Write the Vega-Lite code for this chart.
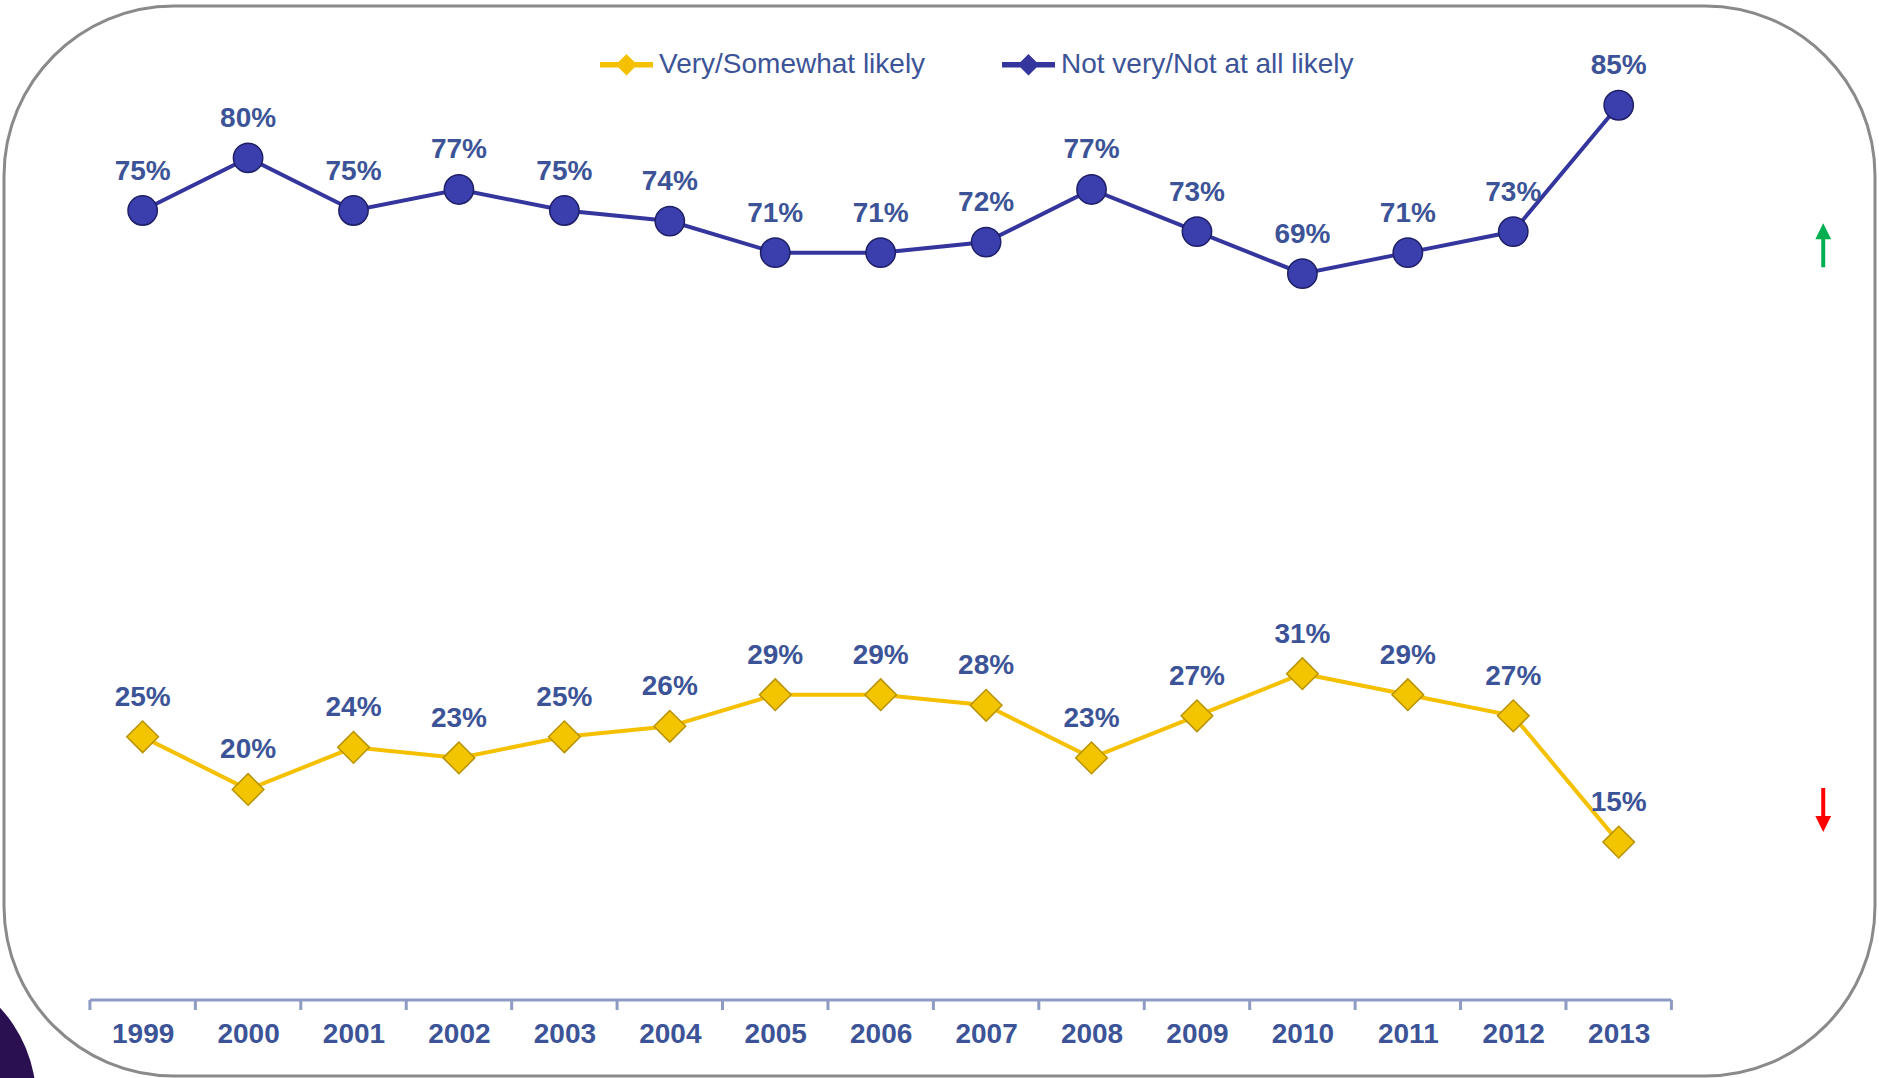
{
  "$schema": "https://vega.github.io/schema/vega-lite/v6.json",
  "width": 1871,
  "height": 1070,
  "autosize": {"type": "none"},
  "padding": {"left": 4, "top": 6, "right": 4, "bottom": 2},
  "background": "white",
  "config": {
    "view": {"stroke": "#8a8a8a", "strokeWidth": 3, "cornerRadius": 170, "fill": "white"},
    "font": "Liberation Sans"
  },
  "datasets": {
    "series": [
      {"year": 1999, "value": 75, "series": "Not very/Not at all likely"},
      {"year": 2000, "value": 80, "series": "Not very/Not at all likely"},
      {"year": 2001, "value": 75, "series": "Not very/Not at all likely"},
      {"year": 2002, "value": 77, "series": "Not very/Not at all likely"},
      {"year": 2003, "value": 75, "series": "Not very/Not at all likely"},
      {"year": 2004, "value": 74, "series": "Not very/Not at all likely"},
      {"year": 2005, "value": 71, "series": "Not very/Not at all likely"},
      {"year": 2006, "value": 71, "series": "Not very/Not at all likely"},
      {"year": 2007, "value": 72, "series": "Not very/Not at all likely"},
      {"year": 2008, "value": 77, "series": "Not very/Not at all likely"},
      {"year": 2009, "value": 73, "series": "Not very/Not at all likely"},
      {"year": 2010, "value": 69, "series": "Not very/Not at all likely"},
      {"year": 2011, "value": 71, "series": "Not very/Not at all likely"},
      {"year": 2012, "value": 73, "series": "Not very/Not at all likely"},
      {"year": 2013, "value": 85, "series": "Not very/Not at all likely"},
      {"year": 1999, "value": 25, "series": "Very/Somewhat likely"},
      {"year": 2000, "value": 20, "series": "Very/Somewhat likely"},
      {"year": 2001, "value": 24, "series": "Very/Somewhat likely"},
      {"year": 2002, "value": 23, "series": "Very/Somewhat likely"},
      {"year": 2003, "value": 25, "series": "Very/Somewhat likely"},
      {"year": 2004, "value": 26, "series": "Very/Somewhat likely"},
      {"year": 2005, "value": 29, "series": "Very/Somewhat likely"},
      {"year": 2006, "value": 29, "series": "Very/Somewhat likely"},
      {"year": 2007, "value": 28, "series": "Very/Somewhat likely"},
      {"year": 2008, "value": 23, "series": "Very/Somewhat likely"},
      {"year": 2009, "value": 27, "series": "Very/Somewhat likely"},
      {"year": 2010, "value": 31, "series": "Very/Somewhat likely"},
      {"year": 2011, "value": 29, "series": "Very/Somewhat likely"},
      {"year": 2012, "value": 27, "series": "Very/Somewhat likely"},
      {"year": 2013, "value": 15, "series": "Very/Somewhat likely"}
    ],
    "bounds": [
      {"b": 1998.5}, {"b": 1999.5}, {"b": 2000.5}, {"b": 2001.5}, {"b": 2002.5}, {"b": 2003.5},
      {"b": 2004.5}, {"b": 2005.5}, {"b": 2006.5}, {"b": 2007.5}, {"b": 2008.5}, {"b": 2009.5},
      {"b": 2010.5}, {"b": 2011.5}, {"b": 2012.5}, {"b": 2013.5}
    ]
  },
  "layer": [
    {
      "data": {"values": [{"deco": "corner"}]},
      "mark": {"type": "point", "filled": true, "opacity": 1, "color": "#2a1050", "size": 74000},
      "encoding": {
        "x": {"datum": 1996.7, "type": "quantitative"},
        "y": {"datum": -9.5, "type": "quantitative", "axis": null}
      }
    },
    {
      "data": {"values": [{"axis": "base"}]},
      "mark": {"type": "rule", "color": "#8e9cc4", "strokeWidth": 3},
      "encoding": {
        "x": {"datum": 1998.5, "type": "quantitative"},
        "x2": {"datum": 2013.5},
        "y": {"datum": 0, "type": "quantitative", "axis": null}
      }
    },
    {
      "data": {"name": "bounds"},
      "mark": {"type": "rule", "color": "#8e9cc4", "strokeWidth": 3},
      "encoding": {
        "x": {"field": "b", "type": "quantitative"},
        "y": {"datum": 0, "type": "quantitative", "axis": null},
        "y2": {"datum": -0.95}
      }
    },
    {
      "data": {"name": "series"},
      "mark": {"type": "line", "strokeWidth": 4},
      "encoding": {
        "x": {"field": "year", "type": "quantitative", "scale": {"domain": [1997.685, 2015.431], "nice": false, "zero": false}, "axis": {"orient": "bottom", "offset": -76, "domain": false, "ticks": false, "grid": false, "values": [1999, 2000, 2001, 2002, 2003, 2004, 2005, 2006, 2007, 2008, 2009, 2010, 2011, 2012, 2013], "format": "d", "labelFont": "Liberation Sans", "labelFontWeight": "bold", "labelFontSize": 28, "labelColor": "#3c5497", "labelPadding": 20, "labelOverlap": false, "labelFlush": false, "title": null}},
        "y": {"field": "value", "type": "quantitative", "scale": {"domain": [-7.22, 94.43], "nice": false, "zero": false}, "axis": null},
        "color": {
          "field": "series", "type": "nominal",
          "scale": {"domain": ["Very/Somewhat likely", "Not very/Not at all likely"], "range": ["#f5c000", "#34369e"]},
          "legend": {
            "title": null, "orient": "none", "legendX": 594, "legendY": 30, "direction": "horizontal",
            "labelFont": "Liberation Sans", "labelFontSize": 28, "labelColor": "#3c5497", "labelOffset": 4, "labelLimit": 500,
            "symbolType": "M-1,-0.03L1,-0.03M-1,0.03L1,0.03M0,-0.3L0.3,0L0,0.3L-0.3,0ZM0,-0.2L0.2,0L0,0.2L-0.2,0ZM0,-0.1L0.1,0L0,0.1L-0.1,0Z",
            "symbolSize": 2809, "symbolStrokeWidth": 4, "columnPadding": 68
          }
        },
        "detail": {"field": "series"}
      }
    },
    {
      "data": {"name": "series"},
      "transform": [{"filter": "datum.series === 'Very/Somewhat likely'"}],
      "mark": {"type": "point", "shape": "diamond", "filled": true, "opacity": 1, "fill": "#f2c500", "stroke": "#b89200", "strokeWidth": 1.5, "size": 1000},
      "encoding": {
        "x": {"field": "year", "type": "quantitative"},
        "y": {"field": "value", "type": "quantitative", "axis": null}
      }
    },
    {
      "data": {"name": "series"},
      "transform": [{"filter": "datum.series === 'Not very/Not at all likely'"}],
      "mark": {"type": "point", "shape": "circle", "filled": true, "opacity": 1, "fill": "#3b3fae", "stroke": "#1e1f66", "strokeWidth": 1.5, "size": 860},
      "encoding": {
        "x": {"field": "year", "type": "quantitative"},
        "y": {"field": "value", "type": "quantitative", "axis": null}
      }
    },
    {
      "data": {"name": "series"},
      "transform": [{"calculate": "datum.value + '%'", "as": "label"}],
      "mark": {"type": "text", "font": "Liberation Sans", "fontWeight": "bold", "fontSize": 28, "color": "#3c5497", "baseline": "middle", "align": "center", "dy": -39},
      "encoding": {
        "x": {"field": "year", "type": "quantitative"},
        "y": {"field": "value", "type": "quantitative", "axis": null},
        "text": {"field": "label"}
      }
    },
    {
      "data": {"values": [{"dir": "up"}]},
      "mark": {"type": "point", "filled": true, "opacity": 1, "color": "#00b050", "size": 1936, "shape": "M0,-1L0.36,-0.27L0.09,-0.27L0.09,1L-0.09,1L-0.09,-0.27L-0.36,-0.27Z"},
      "encoding": {
        "x": {"datum": 2014.94, "type": "quantitative"},
        "y": {"datum": 71.7, "type": "quantitative", "axis": null}
      }
    },
    {
      "data": {"values": [{"dir": "down"}]},
      "mark": {"type": "point", "filled": true, "opacity": 1, "color": "#ff0000", "size": 1936, "shape": "M0,1L0.36,0.27L0.09,0.27L0.09,-1L-0.09,-1L-0.09,0.27L-0.36,0.27Z"},
      "encoding": {
        "x": {"datum": 2014.94, "type": "quantitative"},
        "y": {"datum": 18.05, "type": "quantitative", "axis": null}
      }
    }
  ]
}
